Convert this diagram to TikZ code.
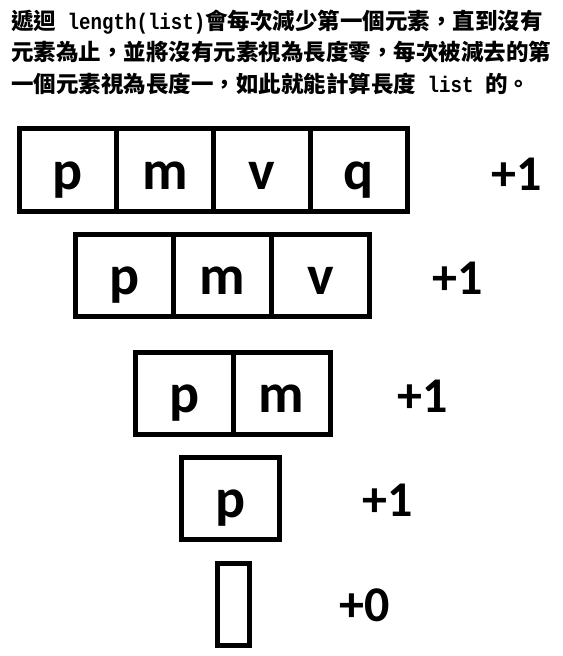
\documentclass[tikz,border=0pt]{standalone}
\usepackage{fontspec}
\setmainfont{Carlito}
\newfontfamily\cjkfont{Noto Sans CJK TC}
\newfontfamily\monofont{Liberation Mono}[FakeStretch=0.85]
\usetikzlibrary{positioning}
\newcommand{\lat}[1]{{\fontsize{22.5bp}{31.5bp}\monofont #1}}

\begin{document}
\begin{tikzpicture}[x=1bp, y=-1bp,
  note/.style={anchor=base west, inner sep=0pt, font=\cjkfont\bfseries\fontsize{22.5bp}{31.5bp}\selectfont},
  cell/.style={draw, line width=5bp, outer sep=0pt, inner sep=0pt, minimum width=97bp,
    text height=60bp, text depth=22bp, font=\bfseries\fontsize{56bp}{56bp}\selectfont},
  count/.style={inner sep=0pt, font=\bfseries\fontsize{50bp}{50bp}\selectfont}]
\useasboundingbox (0,0) rectangle (563,656);
% explanation above the lists
\node[note] (line1) at (11,29.5) {遞迴\lat{ length(list)}會每次減少第一個元素，直到沒有};
\node[note] (line2) at (11,61)   {元素為止，並將沒有元素視為長度零，每次被減去的第};
\node[note] (line3) at (11,92.5) {一個元素視為長度一，如此就能計算長度\lat{ list }的。};
% four elements
\node[cell, anchor=west] (a1) at (19.5,170) {p};
\node[cell, right=0pt of a1] (a2) {m};
\node[cell, right=0pt of a2] (a3) {v};
\node[cell, right=0pt of a3] (a4) {q};
% three elements
\node[cell, minimum width=98bp, anchor=west] (b1) at (75.5,275.5) {p};
\node[cell, minimum width=98bp, right=0pt of b1] (b2) {m};
\node[cell, minimum width=98bp, right=0pt of b2] (b3) {v};
% two elements
\node[cell, minimum width=97.5bp, anchor=west] (c1) at (135.5,393) {p};
\node[cell, minimum width=97.5bp, right=0pt of c1] (c2) {m};
% one element
\node[cell, minimum width=98bp, anchor=west] (d1) at (181.5,498.5) {p};
% empty list
\node[cell, minimum width=32bp, anchor=west] (e0) at (217.5,604.5) {};
% counts
\node[count] (na) at (517,174) {+1};
\node[count] (nb) at (458,278) {+1};
\node[count] (nc) at (423,396) {+1};
\node[count] (nd) at (388,500) {+1};
\node[count] (ne) at (364.5,605) {+0};
\end{tikzpicture}
\end{document}
